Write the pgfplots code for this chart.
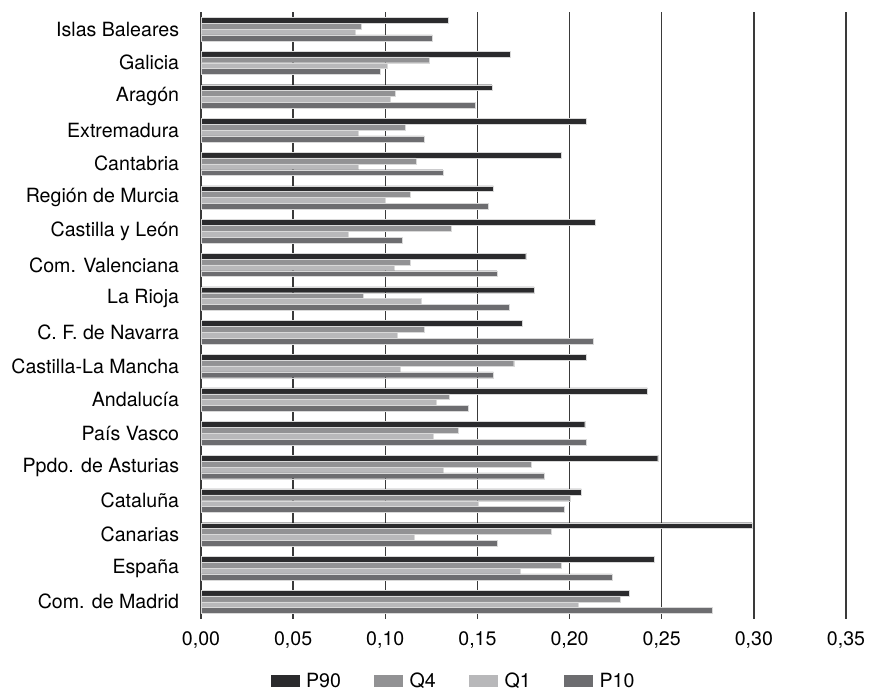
\documentclass[border=0pt]{standalone}
\usepackage{pgfplots}
\pgfplotsset{compat=1.18}
\usepackage{pgfplotstable}
\usepackage{fontspec}
\setmainfont{TeX Gyre Heros}
\definecolor{cP90}{HTML}{2B2B2D}
\definecolor{cQ4}{HTML}{929294}
\definecolor{cQ1}{HTML}{B8B8BA}
\definecolor{cP10}{HTML}{6D6D70}
\definecolor{gridc}{HTML}{3A3A3A}
\pgfplotstableread{
idx P90 Q4 Q1 P10
0 0.1340 0.0870 0.0835 0.1256
1 0.1680 0.1238 0.1009 0.0972
2 0.1578 0.1055 0.1028 0.1488
3 0.2091 0.1110 0.0853 0.1211
4 0.1954 0.1166 0.0853 0.1312
5 0.1587 0.1137 0.1000 0.1560
6 0.2137 0.1357 0.0799 0.1092
7 0.1762 0.1137 0.1047 0.1605
8 0.1807 0.0880 0.1193 0.1670
9 0.1744 0.1211 0.1064 0.2127
10 0.2091 0.1697 0.1082 0.1587
11 0.2422 0.1348 0.1276 0.1450
12 0.2082 0.1394 0.1258 0.2091
13 0.2478 0.1790 0.1312 0.1863
14 0.2064 0.2001 0.1504 0.1972
15 0.2991 0.1900 0.1157 0.1607
16 0.2460 0.1954 0.1733 0.2229
17 0.2323 0.2275 0.2046 0.2773
}\datatable
\begin{document}
\fontsize{9.8}{11.5}\selectfont
\begin{tikzpicture}
\begin{axis}[
  name=ax,
  scale only axis,
  width=322.5pt, height=303.2pt,
  xbar, bar width=0.174,
  xmin=0, xmax=0.35,
  ymin=-0.5, ymax=17.5,
  y dir=reverse,
  ytick={0,...,17},
  yticklabels={Islas Baleares,Galicia,Aragón,Extremadura,Cantabria,Región de Murcia,Castilla y León,Com. Valenciana,La Rioja,C. F. de Navarra,Castilla-La Mancha,Andalucía,País Vasco,Ppdo. de Asturias,Cataluña,Canarias,España,Com. de Madrid},
  ytick style={draw=none},
  xtick style={draw=none},
  xtick={0,0.05,0.1,0.15,0.2,0.25,0.3,0.35},
  xmajorgrids,
  grid style={gridc, line width=0.75pt},
  axis line style={draw=none},
  tick label style={font=\fontsize{9.8}{11.5}\selectfont},
  xticklabel style={inner sep=0pt, yshift=-6.5pt, anchor=north},
  yticklabel style={inner sep=0pt, xshift=-6.5pt, anchor=east},
  /pgf/number format/.cd, assume math mode=true, use comma, fixed, fixed zerofill, precision=2,
  /pgfplots/.cd,
  legend columns=4,
  legend style={draw=none, fill=none, at={(rel axis cs:0.395,-0.1035)}, anchor=center,
    font=\fontsize{9.8}{11.5}\selectfont,
    /tikz/every even column/.append style={column sep=13.5pt},
    nodes={inner xsep=3.2pt, inner ysep=0pt}},
  legend image code/.code={\path[#1, draw=none] (0pt,-3pt) rectangle (14.5pt,3pt);},
]
\addplot[fill=cP90, draw=white!85!black, line width=0.15pt, bar shift=-0.261] table[x=P90, y=idx] {\datatable};
\addplot[fill=cQ4, draw=white!85!black, line width=0.15pt, bar shift=-0.087] table[x=Q4, y=idx] {\datatable};
\addplot[fill=cQ1, draw=white!85!black, line width=0.15pt, bar shift=0.087] table[x=Q1, y=idx] {\datatable};
\addplot[fill=cP10, draw=white!85!black, line width=0.15pt, bar shift=0.261] table[x=P10, y=idx] {\datatable};
\legend{P90,Q4,Q1,P10}
\end{axis}
\path (ax.south west) ++(-100.5pt,-34pt) coordinate (bbA);
\path (ax.south west) ++(335pt,309.3pt) coordinate (bbB);
\path[draw=none] (bbA) rectangle (bbB);
\end{tikzpicture}
\end{document}
